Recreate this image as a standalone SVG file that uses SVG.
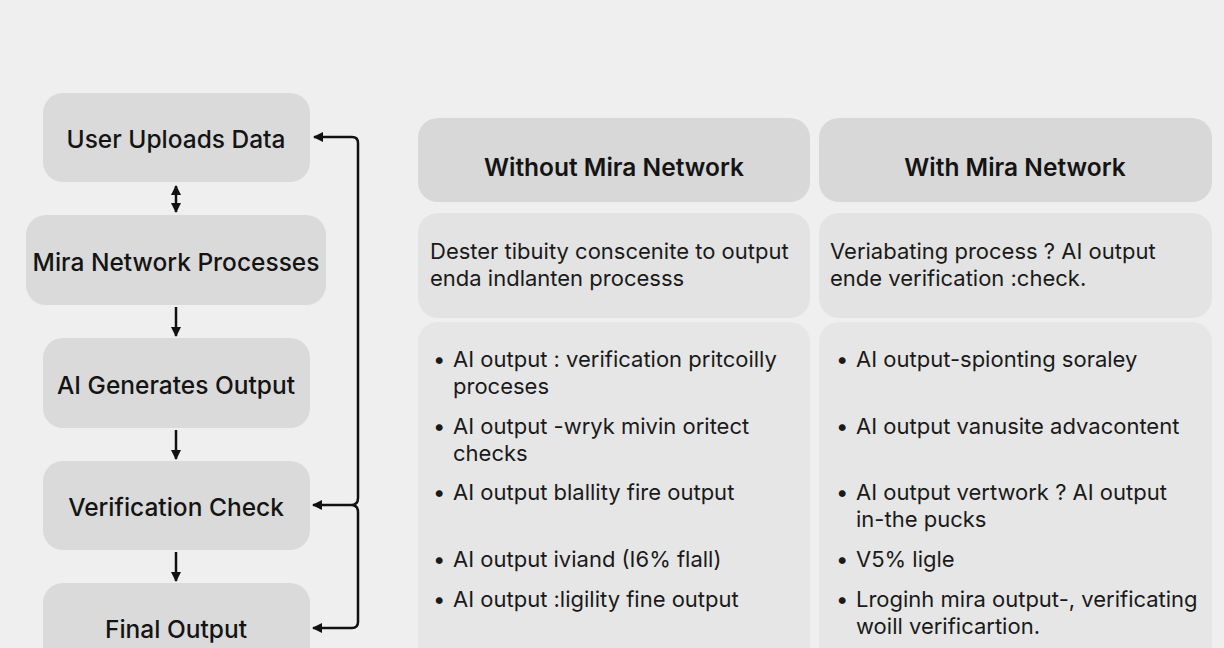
<svg xmlns="http://www.w3.org/2000/svg" width="1224" height="648" viewBox="0 0 1224 648">
<defs>
<style>
.node{fill:#dadada}
.hdr{fill:#d8d8d8}
.cell1{fill:#e3e3e3}
.cell2{fill:#e6e6e6}
.nt{font-family:Inter,"Liberation Sans",sans-serif;font-size:24.5px;fill:#141414;text-anchor:middle;font-weight:500}
.ht{font-family:Inter,"Liberation Sans",sans-serif;font-size:24.5px;fill:#141414;text-anchor:middle;font-weight:600}
.bt{font-family:Inter,"Liberation Sans",sans-serif;font-size:22px;fill:#1a1a1a}
.con{fill:none;stroke:#111;stroke-width:2.5}
</style>
<marker id="ah" viewBox="0 0 10 10" refX="9" refY="5" markerWidth="4" markerHeight="4" orient="auto-start-reverse" markerUnits="strokeWidth">
<path d="M0,0 L10,5 L0,10 z" fill="#111"/>
</marker>
</defs>
<rect width="1224" height="648" fill="#efefef"/>

<g id="n1"><rect class="node" x="43" y="93" width="267" height="89" rx="20"/><text class="nt" x="176" y="148">User Uploads Data</text></g>
<g id="n2"><rect class="node" x="26" y="215" width="300" height="90" rx="20"/><text class="nt" x="176" y="271">Mira Network Processes</text></g>
<g id="n3"><rect class="node" x="43" y="338" width="267" height="90" rx="20"/><text class="nt" x="176" y="394">AI Generates Output</text></g>
<g id="n4"><rect class="node" x="43" y="461" width="267" height="89" rx="20"/><text class="nt" x="176" y="516">Verification Check</text></g>
<g id="n5"><rect class="node" x="43" y="583" width="267" height="90" rx="20"/><text class="nt" x="176" y="638">Final Output</text></g>

<g id="connectors">
<line class="con" x1="176" y1="186" x2="176" y2="212" marker-start="url(#ah)" marker-end="url(#ah)"/>
<line class="con" x1="176" y1="307" x2="176" y2="336" marker-end="url(#ah)"/>
<line class="con" x1="176" y1="430" x2="176" y2="459" marker-end="url(#ah)"/>
<line class="con" x1="176" y1="552" x2="176" y2="581" marker-end="url(#ah)"/>
<path class="con" d="M358,498 L358,143 Q358,137 352,137 L314,137" marker-end="url(#ah)"/>
<path class="con" d="M358,512 L358,622 Q358,628 352,628 L313,628" marker-end="url(#ah)"/>
<path class="con" d="M358,498 Q358,505 351,505 M358,512 Q358,505 351,505"/>
<path class="con" d="M351,505 L313,505" marker-end="url(#ah)"/>
</g>

<g id="col-without">
<rect class="hdr" x="418" y="118" width="392" height="84" rx="20"/>
<text class="ht" x="614" y="176">Without Mira Network</text>
<rect class="cell1" x="418" y="213" width="392" height="105" rx="20"/>
<text class="bt" x="430" y="259">Dester tibuity conscenite to output</text>
<text class="bt" x="430" y="286">enda indlanten processs</text>
<rect class="cell2" x="418" y="322" width="392" height="350" rx="20"/>
<g class="bt">
<text x="433" y="367">•</text><text x="453" y="367">AI output : verification pritcoilly</text>
<text x="453" y="394">proceses</text>
<text x="433" y="434">•</text><text x="453" y="434">AI output -wryk mivin oritect</text>
<text x="453" y="461">checks</text>
<text x="433" y="500">•</text><text x="453" y="500">AI output blallity fire output</text>
<text x="433" y="567">•</text><text x="453" y="567">AI output iviand (I6% flall)</text>
<text x="433" y="607">•</text><text x="453" y="607">AI output :ligility fine output</text>
</g>
</g>

<g id="col-with">
<rect class="hdr" x="819" y="118" width="393" height="84" rx="20"/>
<text class="ht" x="1015" y="176">With Mira Network</text>
<rect class="cell1" x="819" y="213" width="393" height="105" rx="20"/>
<text class="bt" x="830" y="259">Veriabating process ? AI output</text>
<text class="bt" x="830" y="286">ende verification  :check.</text>
<rect class="cell2" x="819" y="322" width="393" height="350" rx="20"/>
<g class="bt">
<text x="836" y="367">•</text><text x="856" y="367">AI output-spionting soraley</text>
<text x="836" y="434">•</text><text x="856" y="434">AI output vanusite advacontent</text>
<text x="836" y="500">•</text><text x="856" y="500">AI output vertwork ? AI output</text>
<text x="856" y="527">in-the pucks</text>
<text x="836" y="567">•</text><text x="856" y="567">V5% ligle</text>
<text x="836" y="607">•</text><text x="856" y="607">Lroginh mira output-, verificating</text>
<text x="856" y="634">woill verificartion.</text>
</g>
</g>
</svg>
